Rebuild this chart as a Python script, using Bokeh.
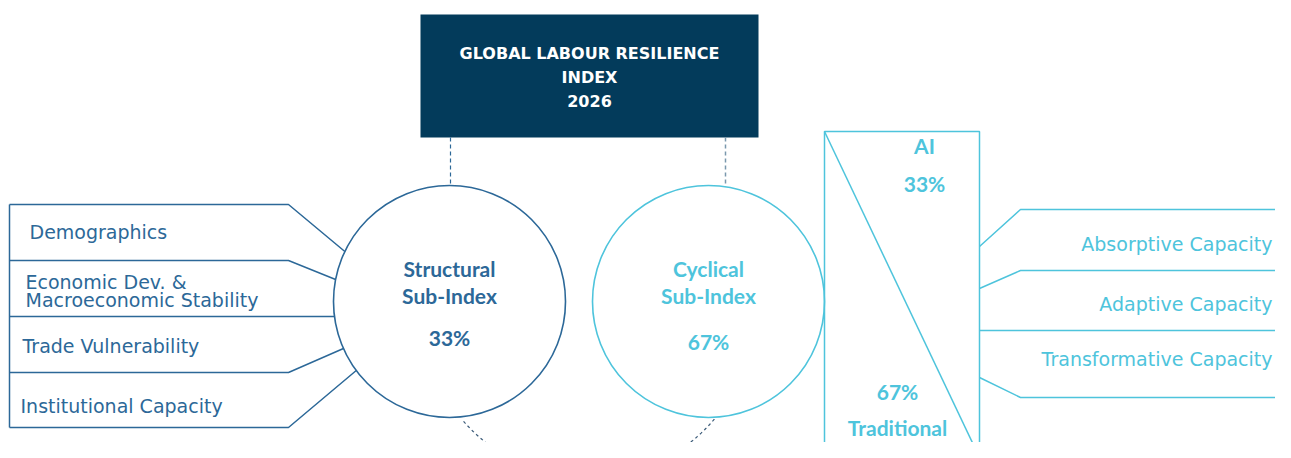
import numpy as np
from bokeh.plotting import figure
from bokeh.models import Range1d
from bokeh.core.properties import value
from bokeh.embed import file_html
from bokeh.resources import INLINE

# ---- data ----
title_lines = ["GLOBAL LABOUR RESILIENCE", "INDEX", "2026"]
sub_indices = ["Structural\nSub-Index", "Cyclical\nSub-Index"]
sub_weights = [33, 67]
structural_parts = ["Demographics", "Economic Dev. &\nMacroeconomic Stability",
                    "Trade Vulnerability", "Institutional Capacity"]
cyclical_parts = ["Absorptive Capacity", "Adaptive Capacity", "Transformative Capacity"]
cyclical_split = ["AI", "Traditional"]
cyclical_split_weights = [33, 67]

# ---- style ----
NAVY = "#033b5b"
BLUE = "#2c6898"
CYAN = "#4ec4dc"
FONT = "DejaVu Sans"
TFONT = "DejaVu Sans"
BFONT = "Lato"
BSIZE = "21px"

p = figure(width=1275, height=442, output_backend="svg", toolbar_location=None,
           x_range=Range1d(0, 1275), y_range=Range1d(442, 0), min_border=0)
p.axis.visible = False
p.grid.visible = False
p.outline_line_color = None
p.background_fill_color = "white"
p.border_fill_color = "white"

# header box
hx0, hx1, hy0, hy1 = 420, 758, 14, 137
p.quad(left=hx0, right=hx1, top=hy0, bottom=hy1, fill_color=NAVY, line_color=None)
for i, t in enumerate(title_lines):
    p.text(x=[(hx0 + hx1) / 2], y=[53 + i * 23.5], text=[t], text_color="white",
           text_font=value(TFONT), text_font_style="bold", text_font_size="16px",
           text_align="center", text_baseline="middle")

# circle geometry
cy = 301
r = 116
cx_s, cx_c = 449, 708

# dashed connectors from header
p.line([450, 450], [hy1, cy - np.sqrt(r**2 - (450 - cx_s)**2)], line_color=BLUE,
       line_dash="4 3", line_width=1.2)
p.line([725, 725], [hy1, cy - np.sqrt(r**2 - (725 - cx_c)**2)], line_color="#7a98ad",
       line_dash="4 3", line_width=1.5)

# dashed arc linking the two sub-indices at the bottom
acx, acy, ar = 587.5, 312.5, 165
th = np.linspace(np.deg2rad(40), np.deg2rad(140), 120)
p.line(acx + ar * np.cos(th), acy + ar * np.sin(th), line_color="#3a5a78",
       line_dash="3 3", line_width=1.2)

# sub-index circles
for cx, col, name, w in zip([cx_s, cx_c], [BLUE, CYAN], sub_indices, sub_weights):
    p.circle(x=[cx], y=[cy], radius=r, fill_color="white", line_color=col, line_width=1.6)
    l1, l2 = name.split("\n")
    p.text(x=[cx], y=[268], text=[l1], text_color=col, text_font=value(BFONT),
           text_font_style="bold", text_font_size=BSIZE, text_align="center",
           text_baseline="middle")
    p.text(x=[cx], y=[295], text=[l2], text_color=col, text_font=value(BFONT),
           text_font_style="bold", text_font_size=BSIZE, text_align="center",
           text_baseline="middle")
    p.text(x=[cx], y=[337 if w == 33 else 341], text=[f"{w}%"], text_color=col,
           text_font=value(BFONT), text_font_style="bold", text_font_size=BSIZE,
           text_align="center", text_baseline="middle")

# left component boxes
lx0, lx1 = 9, 288
rows_y = [204, 260, 316, 372, 427]
target_y = [251, 279, 316, 348, 370]
p.line([lx0, lx0], [rows_y[0], rows_y[-1]], line_color=BLUE, line_width=1.5)
for ry, ty in zip(rows_y, target_y):
    tx = cx_s - np.sqrt(r**2 - (ty - cy)**2)
    if ry == ty:
        p.line([lx0, tx], [ry, ty], line_color=BLUE, line_width=1.5)
    else:
        p.line([lx0, lx1, tx], [ry, ry, ty], line_color=BLUE, line_width=1.5)
label_pos = [(29, [231]), (25, [281, 299]), (22, [345]), (20, [405])]
for name, (tx, tys) in zip(structural_parts, label_pos):
    for line_txt, ty in zip(name.split("\n"), tys):
        p.text(x=[tx], y=[ty], text=[line_txt], text_color=BLUE, text_font=value(FONT),
               text_font_size="19px", text_align="left", text_baseline="middle")

# right split rectangle
rx0, rx1, ry0, ry1 = 824, 979, 131, 457
p.line([rx0, rx0, rx1, rx1], [470, ry0, ry0, 470], line_color=CYAN, line_width=1.5)
p.line([rx0, rx1], [ry0, ry1], line_color=CYAN, line_width=1.5)
p.text(x=[924, 924], y=[145, 183], text=[cyclical_split[0], f"{cyclical_split_weights[0]}%"],
       text_color=CYAN, text_font=value(BFONT), text_font_style="bold",
       text_font_size=BSIZE, text_align="center", text_baseline="middle")
p.text(x=[897, 897], y=[391, 427], text=[f"{cyclical_split_weights[1]}%", cyclical_split[1]],
       text_color=CYAN, text_font=value(BFONT), text_font_style="bold",
       text_font_size=BSIZE, text_align="center", text_baseline="middle")

# right component boxes
bx = 1020
line_y = [209, 270, 330, 397]
src_y = [246, 288, 330, 377]
for ly, sy in zip(line_y, src_y):
    if ly == sy:
        p.line([rx1, 1300], [ly, ly], line_color=CYAN, line_width=1.5)
    else:
        p.line([rx1, bx, 1300], [sy, ly, ly], line_color=CYAN, line_width=1.5)
p.text(x=[1272] * 3, y=[243, 303, 358], text=cyclical_parts, text_color=CYAN,
       text_font=value(FONT), text_font_size="19px", text_align="right",
       text_baseline="middle")

open("out.html", "w").write(file_html(p, INLINE))
